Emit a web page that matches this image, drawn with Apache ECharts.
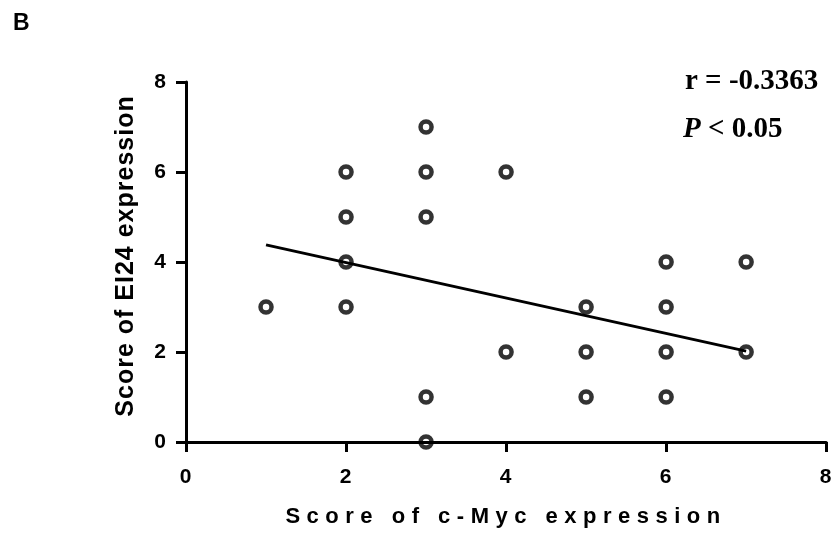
<!DOCTYPE html>
<html>
<head>
<meta charset="utf-8">
<script src="https://cdn.jsdelivr.net/npm/echarts@6/dist/echarts.min.js"></script>
<style>
html, body { margin: 0; padding: 0; background: #fff; }
#chart { width: 835px; height: 533px; }
</style>
</head>
<body>
<div id="chart"></div>
<script>
// scores (c-Myc on x, EI24 on y)
var cMyc = [1, 2, 2, 2, 2, 3, 3, 3, 3, 3, 4, 4, 5, 5, 5, 6, 6, 6, 6, 7, 7];
var ei24 = [3, 6, 5, 4, 3, 7, 6, 5, 1, 0, 6, 2, 3, 2, 1, 4, 3, 2, 1, 4, 2];
// regression line end points
var fitX = [1, 7];
var fitY = [4.38, 2.02];
var xName = 'Score of c-Myc expression';
var yName = 'Score of EI24 expression';
var panel = 'B';
var rText = 'r = -0.3363';
var pText = '{i|P} < 0.05';

// the axis titles are letter-spaced in the original figure
var spacing = {};
spacing[xName] = '6.5px';
spacing[yName] = '1px';
var fillText = CanvasRenderingContext2D.prototype.fillText;
CanvasRenderingContext2D.prototype.fillText = function (t, x, y, w) {
    if (spacing[t]) {
        var old = this.letterSpacing;
        this.letterSpacing = spacing[t];
        fillText.apply(this, arguments);
        this.letterSpacing = old;
        return;
    }
    return fillText.apply(this, arguments);
};

var points = [];
for (var i = 0; i < cMyc.length; i++) {
    points.push([cMyc[i], ei24[i]]);
}
var fit = [];
for (var i = 0; i < fitX.length; i++) {
    fit.push([fitX[i], fitY[i]]);
}

var axisFont = {
    color: '#000',
    fontFamily: 'Liberation Sans',
    fontWeight: 'bold',
    fontSize: 21
};

var myChart = echarts.init(document.getElementById('chart'));
var option = {
    backgroundColor: '#fff',
    animation: false,
    grid: { left: 186, right: 8, top: 82, bottom: 88 },
    xAxis: {
        type: 'value',
        min: 0,
        max: 8,
        interval: 2,
        name: xName,
        nameLocation: 'middle',
        nameGap: 64,
        nameTextStyle: { color: '#000', fontFamily: 'Liberation Sans', fontWeight: 'bold', fontSize: 22 },
        axisLine: { show: true, lineStyle: { color: '#000', width: 3 } },
        axisTick: { show: true, length: 10, lineStyle: { color: '#000', width: 3 } },
        axisLabel: Object.assign({ margin: 25 }, axisFont),
        splitLine: { show: false }
    },
    yAxis: {
        type: 'value',
        min: 0,
        max: 8,
        interval: 2,
        name: yName,
        nameLocation: 'middle',
        nameRotate: 90,
        nameGap: 47,
        nameTextStyle: {
            color: '#000', fontFamily: 'Liberation Sans', fontWeight: 'bold', fontSize: 25,
            padding: [0, 0, 0, 12]
        },
        axisLine: { show: true, lineStyle: { color: '#000', width: 3 } },
        axisTick: { show: true, length: 10, lineStyle: { color: '#000', width: 3 } },
        axisLabel: Object.assign({ margin: 19 }, axisFont),
        splitLine: { show: false }
    },
    graphic: [
        {
            type: 'text', left: 13, top: 12,
            style: { text: panel, fill: '#000', font: 'bold 23px "Liberation Sans"' }
        },
        {
            type: 'text', x: 685, y: 82,
            style: {
                text: rText, fill: '#000', fontFamily: 'Liberation Serif', fontWeight: 'bold',
                fontSize: 29, verticalAlign: 'middle'
            }
        },
        {
            type: 'text', x: 683, y: 130,
            style: {
                text: pText, fill: '#000', fontFamily: 'Liberation Serif', fontWeight: 'bold',
                fontSize: 29, verticalAlign: 'middle',
                rich: { i: { fontStyle: 'italic', fontWeight: 'bold', fontFamily: 'Liberation Serif', fontSize: 29 } }
            }
        }
    ],
    series: [
        {
            name: 'fit',
            type: 'line',
            data: fit,
            symbol: 'none',
            silent: true,
            lineStyle: { color: '#000', width: 3 },
            z: 2
        },
        {
            name: 'scores',
            type: 'scatter',
            data: points,
            symbol: 'circle',
            symbolSize: 11,
            itemStyle: { color: 'rgba(0,0,0,0)', borderColor: '#000', borderWidth: 4.5 },
            z: 3
        }
    ]
};
myChart.setOption(option);
</script>
</body>
</html>
